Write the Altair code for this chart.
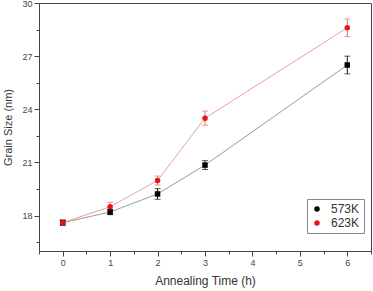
import altair as alt
import pandas as pd

times = [0, 1, 2, 3, 6]
size_573 = [17.6, 18.2, 19.22, 20.85, 26.5]
err_573 = [0.15, 0.15, 0.3, 0.25, 0.5]
size_623 = [17.6, 18.5, 19.98, 23.5, 28.6]
err_623 = [0.15, 0.25, 0.25, 0.4, 0.5]
series = ["573K", "623K"]

rows = []
for s, vals, errs in [("573K", size_573, err_573), ("623K", size_623, err_623)]:
    for t, v, e in zip(times, vals, errs):
        rows.append({"t": t, "size": v, "lo": v - e, "hi": v + e, "series": s})
df = pd.DataFrame(rows)

FONT = "Liberation Sans"
xvals = [x / 2 for x in range(-1, 14)]
yvals = [16.5 + 1.5 * i for i in range(0, 10)]

xaxis = alt.Axis(title="Annealing Time (h)", values=xvals, labelOverlap=False,
                 labelExpr="datum.value % 1 === 0 ? format(datum.value, 'd') : ''",
                 tickSize={"condition": {"test": "datum.value % 1 !== 0", "value": 3}, "value": 5},
                 grid=False, titleFontSize=12)
yaxis = alt.Axis(title="Grain Size (nm)", values=yvals, labelOverlap=False,
                 labelExpr="(datum.value - 18) % 3 === 0 ? format(datum.value, 'd') : ''",
                 tickSize={"condition": {"test": "(datum.value - 18) % 3 !== 0", "value": 3}, "value": 5},
                 grid=False)
xsc = alt.Scale(domain=[-0.5, 6.5], nice=False, zero=False)
ysc = alt.Scale(domain=[16, 30], nice=False, zero=False)

x = alt.X("t:Q", scale=xsc, axis=xaxis)
y = alt.Y("size:Q", scale=ysc, axis=yaxis)

base = alt.Chart(df)
lines = base.mark_line(strokeWidth=1).encode(
    x=x, y=y,
    color=alt.Color("series:N", scale=alt.Scale(domain=series, range=["#9a9a9a", "#e8a0a0"]), legend=None),
    detail="series:N")
errs = base.mark_errorbar(ticks=alt.MarkConfig(size=6), thickness=1).encode(
    x=x, y=alt.Y("lo:Q", scale=ysc, axis=yaxis), y2="hi:Q",
    color=alt.Color("series:N", scale=alt.Scale(domain=series, range=["#111111", "#e07070"]), legend=None))
points = base.mark_point(filled=True, size=30, opacity=1).encode(
    x=x, y=y,
    color=alt.Color("series:N", scale=alt.Scale(domain=series, range=["#000000", "#e8141b"]),
                    legend=alt.Legend(title=None, orient="none", legendX=268, legendY=196,
                                      strokeColor="#888888", padding=4, labelFontSize=12,
                                      labelFont=FONT, labelColor="#333333", symbolSize=30, rowPadding=2,
                                      labelOffset=8)),
    shape=alt.Shape("series:N", scale=alt.Scale(domain=series, range=["square", "circle"]), legend=None))

chart = alt.layer(lines, errs, points).resolve_scale(color="independent").properties(
    width=332, height=248,
    autosize=alt.AutoSizeParams(type="none"),
    padding={"left": 39, "top": 3, "right": 2, "bottom": 40},
).configure_view(stroke="#444444", strokeWidth=1).configure_axis(
    labelFont=FONT, titleFont=FONT, labelFontSize=9, titleFontSize=11,
    labelColor="#444444", titleColor="#333333", domainColor="#444444", tickColor="#444444",
    titleFontWeight="normal"
).configure_axisX(titlePadding=8).configure_axisY(titlePadding=8)

chart.save("out.html", embed_options={"renderer": "svg", "actions": False})
